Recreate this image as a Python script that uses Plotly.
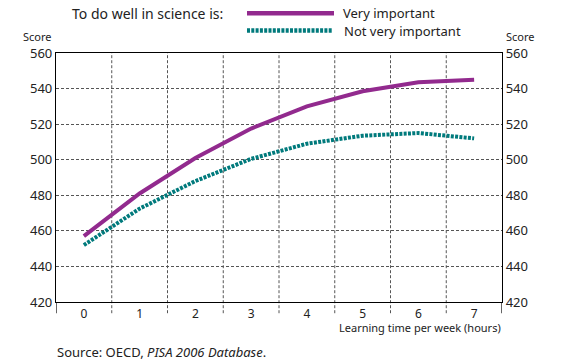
import plotly.graph_objects as go

hours = [0, 1, 2, 3, 4, 5, 6, 7]
very_important = [457, 481, 501, 517.5, 530, 538.5, 543.5, 545]
not_very_important = [452, 472.5, 488, 500.5, 509, 513.5, 515, 512]
y_ticks = [420, 440, 460, 480, 500, 520, 540, 560]
boundaries = [0.5, 1.5, 2.5, 3.5, 4.5, 5.5, 6.5]

PURPLE = "#922A8E"
TEAL = "#007A7C"
FONT = "Noto Sans"
TXT = "#222222"

fig = go.Figure()
fig.add_trace(go.Scatter(x=hours, y=very_important, mode="lines",
                         line=dict(color=PURPLE, width=4), showlegend=False,
                         hoverinfo="skip"))
fig.add_trace(go.Scatter(x=hours, y=not_very_important, mode="lines",
                         line=dict(color=TEAL, width=4, dash="3px,1.3px"),
                         showlegend=False, hoverinfo="skip"))
# invisible trace to activate right axis
fig.add_trace(go.Scatter(x=hours, y=very_important, mode="lines", yaxis="y2",
                         line=dict(width=0), opacity=0, showlegend=False,
                         hoverinfo="skip"))

shapes = []
for b in boundaries:
    shapes.append(dict(type="line", xref="x", yref="paper", x0=b, x1=b,
                       y0=-0.045, y1=1, line=dict(color="#555555", width=1, dash="3px,2px"),
                       layer="below"))
for b in [-0.5, 7.5]:
    shapes.append(dict(type="line", xref="x", yref="paper", x0=b, x1=b,
                       y0=-0.045, y1=0, line=dict(color="#000000", width=1.2)))


def px_x(x):
    return (x - 56) / 446


def px_y(y):
    return (302 - y) / 249


# legend samples
shapes.append(dict(type="line", xref="paper", yref="paper",
                   x0=px_x(247), x1=px_x(334), y0=px_y(13.3), y1=px_y(13.3),
                   line=dict(color=PURPLE, width=4.5)))
shapes.append(dict(type="line", xref="paper", yref="paper",
                   x0=px_x(247), x1=px_x(332), y0=px_y(30.5), y1=px_y(30.5),
                   line=dict(color=TEAL, width=4.5, dash="3px,1.3px")))

annotations = [
    dict(text="To do well in science is:", x=px_x(70), y=px_y(13.5), xanchor="left",
         yanchor="middle", font=dict(size=14)),
    dict(text="Very important", x=px_x(341), y=px_y(13), xanchor="left",
         yanchor="middle", font=dict(size=13)),
    dict(text="Not very important", x=px_x(342), y=px_y(31), xanchor="left",
         yanchor="middle", font=dict(size=13)),
    dict(text="Score", x=px_x(53.5), y=px_y(36.5), xanchor="right",
         yanchor="middle", font=dict(size=11)),
    dict(text="Score", x=px_x(504), y=px_y(36.5), xanchor="left",
         yanchor="middle", font=dict(size=11)),
    dict(text="Learning time per week (hours)", x=px_x(503), y=px_y(327.5),
         xanchor="right", yanchor="middle", font=dict(size=11)),
    dict(text="Source: OECD, <i>PISA 2006 Database</i>.", x=px_x(55), y=px_y(351.5),
         xanchor="left", yanchor="middle", font=dict(size=13)),
]
for a in annotations:
    a.update(xref="paper", yref="paper", showarrow=False)
    a["font"].update(family=FONT, color=TXT)

fig.update_layout(
    width=571, height=363,
    margin=dict(l=56, r=69, t=53, b=61),
    paper_bgcolor="white", plot_bgcolor="white",
    font=dict(family=FONT, color=TXT, size=13),
    xaxis=dict(range=[-0.5, 7.5], tickvals=hours, showgrid=False, zeroline=False,
               showline=True, linecolor="black", linewidth=1.2, mirror=True,
               ticks="", tickfont=dict(size=12, color=TXT), fixedrange=True),
    yaxis=dict(range=[420, 560], tickvals=y_ticks, showgrid=True,
               gridcolor="#555555", gridwidth=1, griddash="3px,2px",
               zeroline=False, showline=True, linecolor="black", linewidth=1.2,
               ticks="", tickfont=dict(size=13, color=TXT), fixedrange=True),
    yaxis2=dict(range=[420, 560], tickvals=y_ticks, overlaying="y", side="right",
                showgrid=False, zeroline=False, showline=True, linecolor="black",
                linewidth=1.2, ticks="", tickfont=dict(size=13, color=TXT),
                fixedrange=True),
    shapes=shapes,
    annotations=annotations,
    showlegend=False,
)

fig.write_html("out.html", config={"displayModeBar": False},
               post_script="document.body.style.margin='0';document.body.style.overflow='hidden';")
